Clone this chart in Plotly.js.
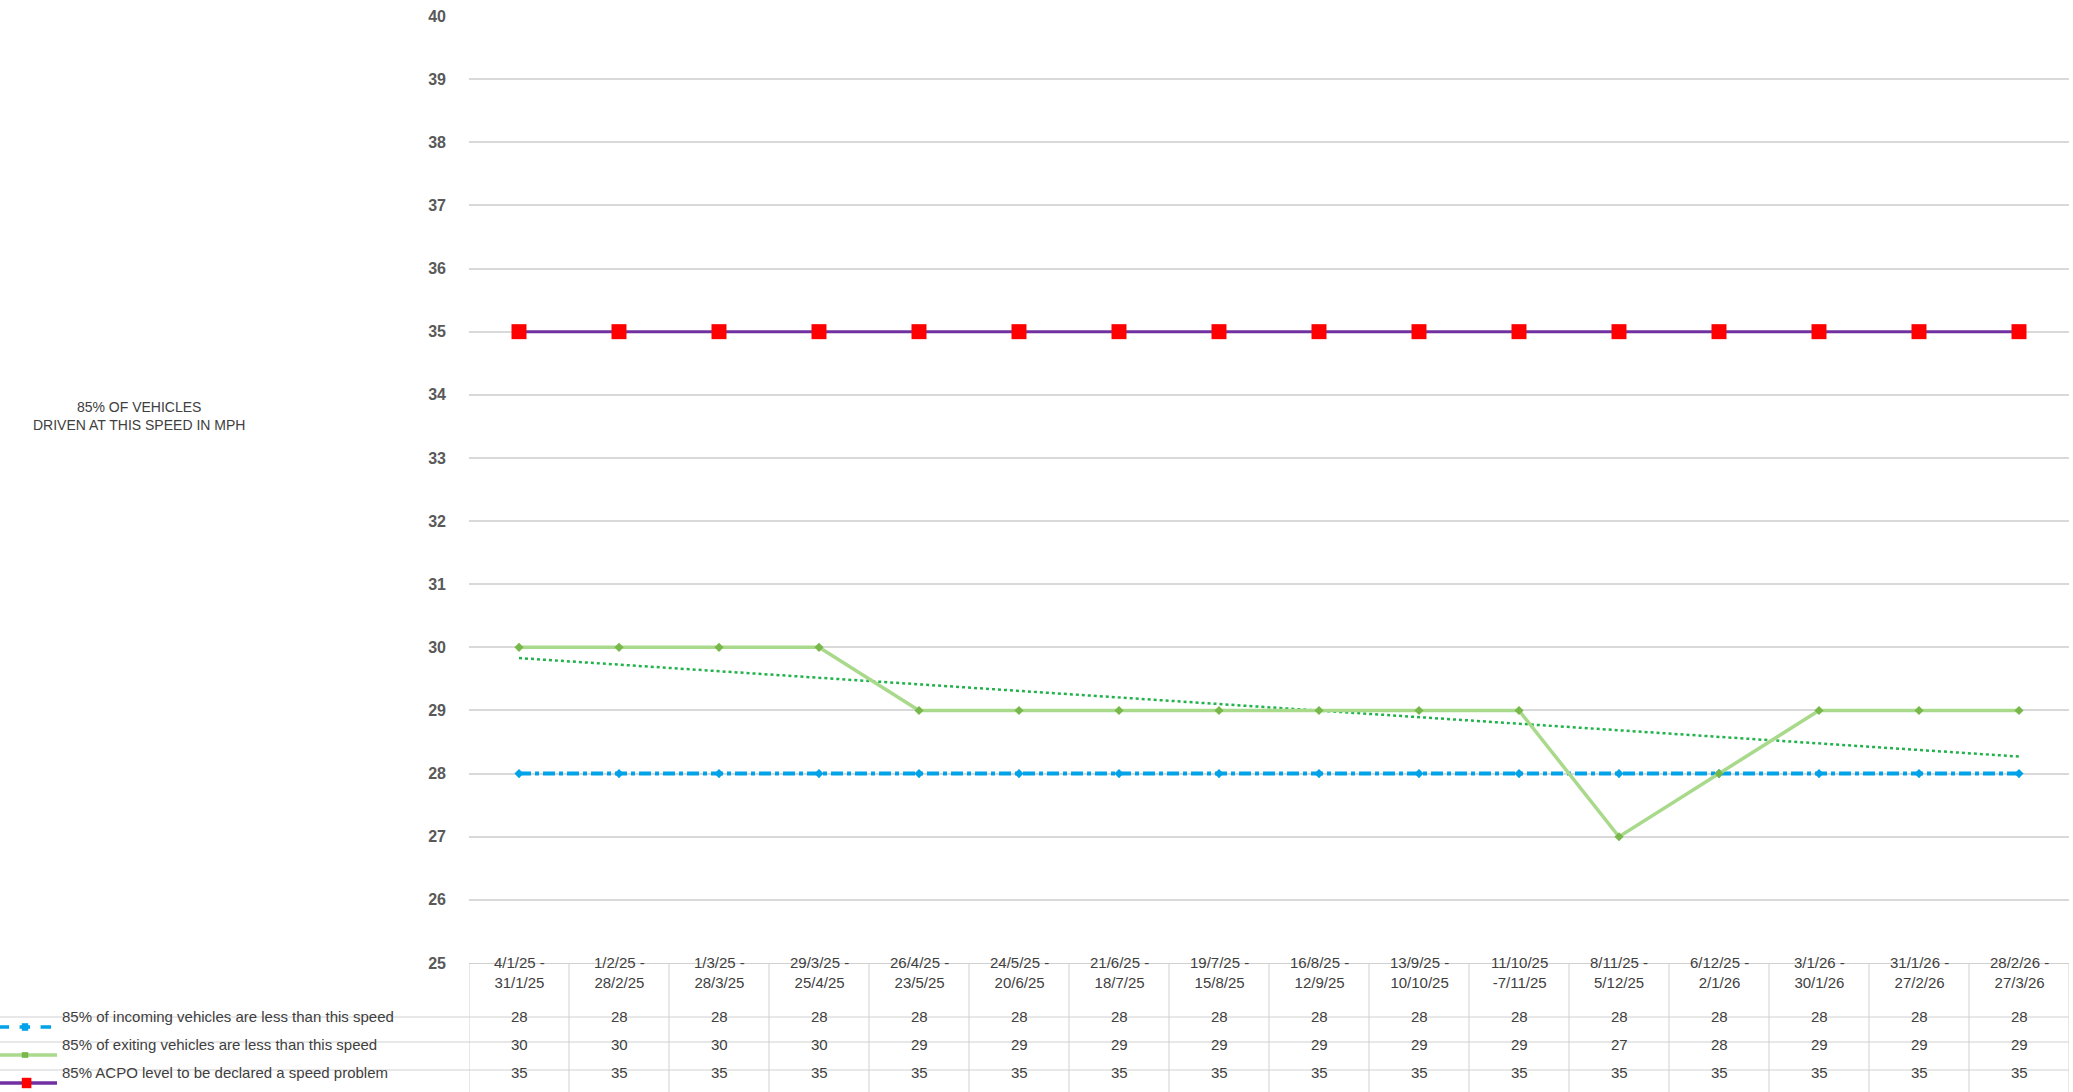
<!DOCTYPE html>
<html>
<head>
<meta charset="utf-8">
<script src="https://cdn.plot.ly/plotly-3.0.1.min.js"></script>
<style>body{margin:0;background:#fff}</style>
</head>
<body>
<div id="chart" style="width:2073px;height:1092px"></div>
<script>
var periods = ["4/1/25 -<br>31/1/25","1/2/25 -<br>28/2/25","1/3/25 -<br>28/3/25","29/3/25 -<br>25/4/25",
  "26/4/25 -<br>23/5/25","24/5/25 -<br>20/6/25","21/6/25 -<br>18/7/25","19/7/25 -<br>15/8/25",
  "16/8/25 -<br>12/9/25","13/9/25 -<br>10/10/25","11/10/25<br>-7/11/25","8/11/25 -<br>5/12/25",
  "6/12/25 -<br>2/1/26","3/1/26 -<br>30/1/26","31/1/26 -<br>27/2/26","28/2/26 -<br>27/3/26"];
var incoming = [28,28,28,28,28,28,28,28,28,28,28,28,28,28,28,28];
var exiting = [30,30,30,30,29,29,29,29,29,29,29,27,28,29,29,29];
var acpo = [35,35,35,35,35,35,35,35,35,35,35,35,35,35,35,35];
var trendEnds = [29.83, 28.27];
var seriesNames = ["85% of incoming vehicles are less than this speed",
  "85% of exiting vehicles are less than this speed",
  "85% ACPO level to be declared a speed problem"];

var cats = periods.map(function(p, i){ return "c" + i; });

function setLinePlot(div) {
  var data = [
    {x: cats, y: incoming, type: "scatter", mode: "lines+markers", name: seriesNames[0],
     line: {color: "#00a2e8", width: 4, dash: "dashdot"}, marker: {symbol: "diamond", size: 7, color: "#00a2e8"}},
    {x: [cats[0], cats[cats.length-1]], y: trendEnds, type: "scatter", mode: "lines",
     line: {color: "#22b24c", width: 2.5, dash: "dot"}, showlegend: false},
    {x: cats, y: exiting, type: "scatter", mode: "lines+markers", name: seriesNames[1],
     line: {color: "#a9d98a", width: 3.5}, marker: {symbol: "diamond", size: 7, color: "#78b84a"}},
    {x: cats, y: acpo, type: "scatter", mode: "lines+markers", name: seriesNames[2],
     line: {color: "#7030a0", width: 3}, marker: {symbol: "square", size: 15, color: "#ff0000"}}
  ];

  var h = 947;
  function py(px){ return (963 - px) / h; }
  var rowMid = [py(993), py(1027), py(1055), py(1083)];
  var rowLines = [py(963), py(1017), py(1042), py(1070), py(1092)];
  var rowsVals = [incoming, exiting, acpo];
  var colors = ["#00a2e8", "#a9d98a", "#7030a0"];

  var ann = [{text: "85% OF VEHICLES<br>DRIVEN AT THIS SPEED IN MPH", xref: "paper", yref: "paper",
    x: -0.2735, y: py(416), showarrow: false, font: {size: 14, color: "#404040"}, align: "center"}];
  var shapes = [];
  periods.forEach(function(p, i){
    ann.push({text: p, x: cats[i], xref: "x", yref: "paper", y: rowMid[0], showarrow: false,
      font: {size: 15, color: "#404040"}});
    rowsVals.forEach(function(r, k){
      ann.push({text: String(r[i]), x: cats[i], xref: "x", yref: "paper", y: rowMid[k+1], showarrow: false,
        font: {size: 15, color: "#404040"}});
    });
    shapes.push({type: "line", xref: "x", yref: "paper", x0: i - 0.5, x1: i - 0.5, y0: rowLines[0], y1: rowLines[4],
      line: {color: "#d0d0d0", width: 1}});
  });
  shapes.push({type: "line", xref: "x", yref: "paper", x0: 15.5, x1: 15.5, y0: rowLines[0], y1: rowLines[4],
    line: {color: "#d0d0d0", width: 1}});
  rowLines.slice(1, 4).forEach(function(y){
    shapes.push({type: "line", xref: "paper", yref: "paper", x0: -0.294, x1: 1, y0: y, y1: y,
      line: {color: "#d0d0d0", width: 1}});
  });
  seriesNames.forEach(function(n, k){
    ann.push({text: n, xref: "paper", yref: "paper", x: -0.2555, xanchor: "left", y: rowMid[k+1], showarrow: false,
      font: {size: 15, color: "#404040"}});
    shapes.push({type: "line", xref: "paper", yref: "paper", x0: -0.294, x1: -0.2575, y0: rowMid[k+1], y1: rowMid[k+1],
      line: {color: colors[k], width: 3.5, dash: k === 0 ? "dash" : "solid"}});
  });
  shapes.push({type: "rect", xref: "paper", yref: "paper", x0: -0.2795, x1: -0.2735,
    y0: rowMid[3] - 0.0055, y1: rowMid[3] + 0.0055, fillcolor: "#ff0000", line: {width: 0}});
  shapes.push({type: "rect", xref: "paper", yref: "paper", x0: -0.2795, x1: -0.2755,
    y0: rowMid[1] - 0.004, y1: rowMid[1] + 0.004, fillcolor: "#00a2e8", line: {width: 0}});
  shapes.push({type: "rect", xref: "paper", yref: "paper", x0: -0.2795, x1: -0.2755,
    y0: rowMid[2] - 0.003, y1: rowMid[2] + 0.003, fillcolor: "#78b84a", line: {width: 0}});

  var layout = {
    width: 2073, height: 1092,
    margin: {l: 469, r: 4, t: 16, b: 129},
    showlegend: false,
    plot_bgcolor: "#fff", paper_bgcolor: "#fff",
    font: {family: "Liberation Sans, Arial, sans-serif"},
    xaxis: {type: "category", range: [-0.5, 15.5], showticklabels: false, showgrid: false, zeroline: false,
      showline: true, linecolor: "#d0d0d0", fixedrange: true},
    yaxis: {range: [25, 40], dtick: 1, showgrid: true, gridcolor: "#d9d9d9", gridwidth: 1.5,
      zeroline: false, ticks: "", ticklabelstandoff: 22,
      tickfont: {size: 16, color: "#595959", weight: "bold"}, fixedrange: true},
    annotations: ann,
    shapes: shapes
  };

  Plotly.newPlot(div, data, layout, {displayModeBar: false});
}

setLinePlot(document.getElementById("chart"));
</script>
</body>
</html>
